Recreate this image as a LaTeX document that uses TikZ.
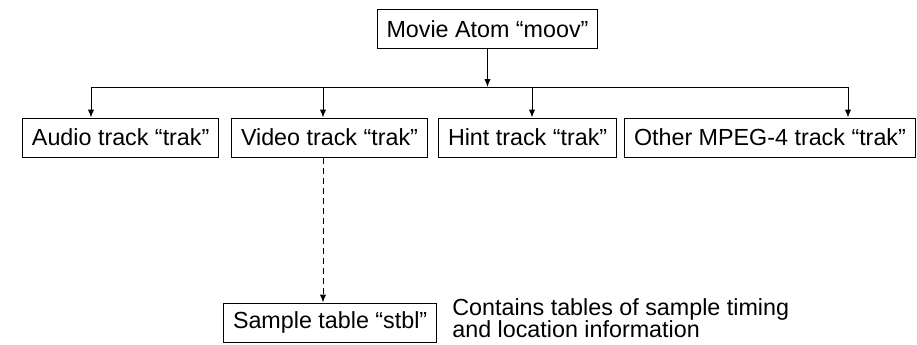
\documentclass[tikz,border=0pt]{standalone}
\usepackage{fontspec}
\setmainfont{Liberation Sans}
\usetikzlibrary{arrows.meta}
\begin{document}
\begin{tikzpicture}[
 x=0.5pt,y=-0.5pt,
 box/.style={draw,line width=0.5pt,font=\fontsize{11.65}{14}\selectfont,inner xsep=4.75pt,inner ysep=0pt,minimum height=19.5pt},
 link/.style={line width=0.5pt,-{Latex[length=4pt,width=3.2pt]}},
]
\useasboundingbox (0,0) rectangle (917,344);
\node[box] (moov) at (487.5,29) {Movie Atom “moov”};
\node[box,anchor=west] (audio) at (22,137.5) {Audio track “trak”};
\node[box,anchor=west] (video) at (231,137.5) {Video track “trak”};
\node[box,anchor=west] (hint) at (438,137.5) {Hint track “trak”};
\node[box,anchor=west] (other) at (624,137.5) {Other MPEG-4 track “trak”};
\node[box,anchor=west] (sample) at (223,322.5) {Sample table “stbl”};
\node[anchor=north west,inner sep=0pt,align=left,font=\fontsize{11.65}{11.25}\selectfont] (note) at (452,298) {Contains tables of sample timing\\and location information};
% bus between the movie atom and the tracks
\coordinate (bus) at (487.5,87);
\coordinate (busA) at (91,87);
\coordinate (busV) at (323,87);
\coordinate (busH) at (532,87);
\coordinate (busO) at (848,87);
\draw[link] (moov.south) -- (bus);
\draw[line width=0.5pt] (busA) -- (busO);
\foreach \c/\n in {busA/audio,busV/video,busH/hint,busO/other}
  \draw[link] (\c) -- (\c |- \n.north);
\draw[link,dash pattern=on 3pt off 2pt] (busV |- video.south) -- (busV |- sample.north);
\end{tikzpicture}
\end{document}
